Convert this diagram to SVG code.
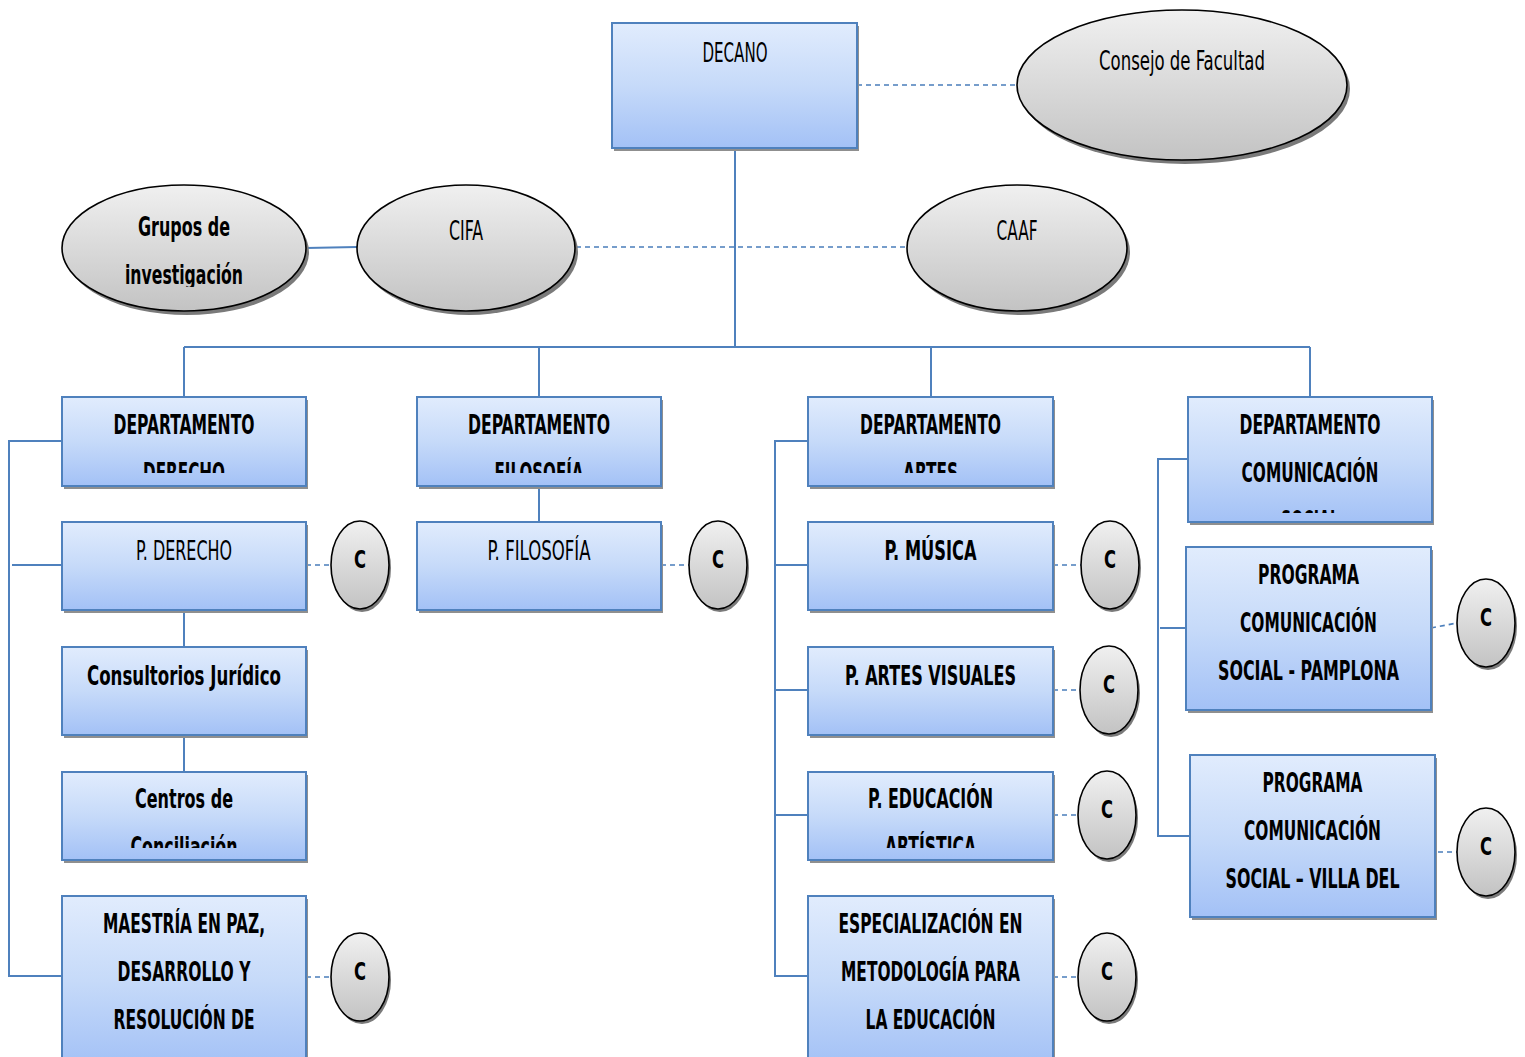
<svg xmlns="http://www.w3.org/2000/svg" width="1525" height="1057" viewBox="0 0 1525 1057">
<style>
.box{fill:url(#gb);stroke:#4f81bd;stroke-width:2}
.bsh{fill:#8f8f8f}
.ell{fill:url(#ge);stroke:#000;stroke-width:1.6}
.esh{fill:#7a7a7a}
.ln{fill:none;stroke:#4f81bd;stroke-width:2}
.dl{fill:none;stroke:#4a7ebb;stroke-width:1.6;stroke-dasharray:5 4}
text{font-family:"Liberation Sans Narrow","DejaVu Sans Condensed","Liberation Sans",Arial,sans-serif;font-stretch:condensed;font-size:26px;fill:#000;text-anchor:middle}
.b{font-weight:bold}
.r{font-weight:normal}
.c{font-weight:bold;font-size:25px}
</style>
<defs>
<linearGradient id="gb" x1="0" y1="0" x2="0" y2="1">
<stop offset="0" stop-color="#e1ecfd"/>
<stop offset="0.5" stop-color="#c6daf9"/>
<stop offset="1" stop-color="#a3c1f6"/>
</linearGradient>
<linearGradient id="ge" x1="0" y1="0" x2="0" y2="1">
<stop offset="0" stop-color="#f0f0f0"/>
<stop offset="1" stop-color="#c3c3c3"/>
</linearGradient>
<clipPath id="cDer"><rect x="62" y="397" width="244" height="76"/></clipPath>
<clipPath id="cFil"><rect x="417" y="397" width="244" height="76"/></clipPath>
<clipPath id="cArt"><rect x="808" y="397" width="245" height="76"/></clipPath>
<clipPath id="cCom"><rect x="1188" y="397" width="244" height="116"/></clipPath>
<clipPath id="cCen"><rect x="62" y="772" width="244" height="76"/></clipPath>
<clipPath id="cEdu"><rect x="808" y="772" width="245" height="76"/></clipPath>
<clipPath id="cGru"><rect x="62" y="185" width="244" height="102"/></clipPath>
</defs>
<rect width="1525" height="1057" fill="#fff"/>

<g id="connectors">
<path class="ln" d="M735 148V347M184 347H1310M184 347V397M539 347V397M931 347V397M1310 347V397"/>
<path class="ln" d="M306 248L357 247"/>
<path class="ln" d="M539 486V522M184 610V647M184 735V772"/>
<path class="ln" d="M64 441H9V976H62M12 565H62"/>
<path class="ln" d="M810 441H775V976H808M775 565H808M775 690H808M775 815H808"/>
<path class="ln" d="M1188 459H1158V836H1190M1160 628H1186"/>
<path class="dl" d="M857 85H1017M576 247H907"/>
<path class="dl" d="M306 565H331M661 565H689M1053 565H1081M1053 690H1080M1053 815H1078M1053 977H1078M306 977H331M1431 628L1457 623M1429 852H1457"/>
</g>

<g id="decano">
<rect class="bsh" x="614" y="26" width="245" height="125"/>
<rect class="box" x="612" y="23" width="245" height="125"/>
<text class="r" x="735" y="62" textLength="65" lengthAdjust="spacingAndGlyphs">DECANO</text>
</g>

<g id="consejo">
<ellipse class="esh" cx="1185" cy="89" rx="165" ry="75"/>
<ellipse class="ell" cx="1182" cy="85" rx="165" ry="75"/>
<text class="r" x="1182" y="70" textLength="166" lengthAdjust="spacingAndGlyphs">Consejo de Facultad</text>
</g>

<g id="grupos">
<ellipse class="esh" cx="187" cy="252" rx="122" ry="63"/>
<ellipse class="ell" cx="184" cy="248" rx="122" ry="63"/>
<text class="b" x="184" y="236" textLength="92" lengthAdjust="spacingAndGlyphs">Grupos de</text>
<text class="b" x="184" y="284" textLength="118" lengthAdjust="spacingAndGlyphs" clip-path="url(#cGru)">investigación</text>
</g>

<g id="cifa">
<ellipse class="esh" cx="469" cy="252" rx="109" ry="63"/>
<ellipse class="ell" cx="466" cy="248" rx="109" ry="63"/>
<text class="r" x="466" y="240" textLength="34" lengthAdjust="spacingAndGlyphs">CIFA</text>
</g>

<g id="caaf">
<ellipse class="esh" cx="1020" cy="252" rx="110" ry="63"/>
<ellipse class="ell" cx="1017" cy="248" rx="110" ry="63"/>
<text class="r" x="1017" y="240" textLength="41" lengthAdjust="spacingAndGlyphs">CAAF</text>
</g>

<g id="dep-derecho">
<rect class="bsh" x="64" y="400" width="244" height="89"/>
<rect class="box" x="62" y="397" width="244" height="89"/>
<text class="b" x="184" y="434" textLength="141" lengthAdjust="spacingAndGlyphs">DEPARTAMENTO</text>
<text class="b" x="184" y="482" textLength="82" lengthAdjust="spacingAndGlyphs" clip-path="url(#cDer)">DERECHO</text>
</g>

<g id="dep-filosofia">
<rect class="bsh" x="419" y="400" width="244" height="89"/>
<rect class="box" x="417" y="397" width="244" height="89"/>
<text class="b" x="539" y="434" textLength="142" lengthAdjust="spacingAndGlyphs">DEPARTAMENTO</text>
<text class="b" x="539" y="482" textLength="89" lengthAdjust="spacingAndGlyphs" clip-path="url(#cFil)">FILOSOFÍA</text>
</g>

<g id="dep-artes">
<rect class="bsh" x="810" y="400" width="245" height="89"/>
<rect class="box" x="808" y="397" width="245" height="89"/>
<text class="b" x="930.5" y="434" textLength="141" lengthAdjust="spacingAndGlyphs">DEPARTAMENTO</text>
<text class="b" x="930.5" y="482" textLength="55" lengthAdjust="spacingAndGlyphs" clip-path="url(#cArt)">ARTES</text>
</g>

<g id="dep-comunicacion">
<rect class="bsh" x="1190" y="400" width="244" height="125"/>
<rect class="box" x="1188" y="397" width="244" height="125"/>
<text class="b" x="1310" y="434" textLength="141" lengthAdjust="spacingAndGlyphs">DEPARTAMENTO</text>
<text class="b" x="1310" y="482" textLength="137" lengthAdjust="spacingAndGlyphs">COMUNICACIÓN</text>
<text class="b" x="1310" y="530" textLength="58" lengthAdjust="spacingAndGlyphs" clip-path="url(#cCom)">SOCIAL</text>
</g>

<g id="p-derecho">
<rect class="bsh" x="64" y="525" width="244" height="88"/>
<rect class="box" x="62" y="522" width="244" height="88"/>
<text class="r" x="184" y="560" textLength="96" lengthAdjust="spacingAndGlyphs">P. DERECHO</text>
</g>

<g id="p-filosofia">
<rect class="bsh" x="419" y="525" width="244" height="88"/>
<rect class="box" x="417" y="522" width="244" height="88"/>
<text class="r" x="539" y="560" textLength="103" lengthAdjust="spacingAndGlyphs">P. FILOSOFÍA</text>
</g>

<g id="p-musica">
<rect class="bsh" x="810" y="525" width="245" height="88"/>
<rect class="box" x="808" y="522" width="245" height="88"/>
<text class="b" x="930.5" y="560" textLength="92" lengthAdjust="spacingAndGlyphs">P. MÚSICA</text>
</g>

<g id="consultorios">
<rect class="bsh" x="64" y="650" width="244" height="88"/>
<rect class="box" x="62" y="647" width="244" height="88"/>
<text class="b" x="184" y="685" textLength="194" lengthAdjust="spacingAndGlyphs">Consultorios Jurídico</text>
</g>

<g id="centros">
<rect class="bsh" x="64" y="775" width="244" height="88"/>
<rect class="box" x="62" y="772" width="244" height="88"/>
<text class="b" x="184" y="808" textLength="98" lengthAdjust="spacingAndGlyphs">Centros de</text>
<text class="b" x="184" y="856" textLength="107" lengthAdjust="spacingAndGlyphs" clip-path="url(#cCen)">Conciliación</text>
</g>

<g id="maestria">
<rect class="bsh" x="64" y="899" width="244" height="170"/>
<rect class="box" x="62" y="896" width="244" height="170"/>
<text class="b" x="184" y="933" textLength="162" lengthAdjust="spacingAndGlyphs">MAESTRÍA EN PAZ,</text>
<text class="b" x="184" y="981" textLength="133" lengthAdjust="spacingAndGlyphs">DESARROLLO Y</text>
<text class="b" x="184" y="1029" textLength="141" lengthAdjust="spacingAndGlyphs">RESOLUCIÓN DE</text>
</g>

<g id="p-artes-visuales">
<rect class="bsh" x="810" y="650" width="245" height="88"/>
<rect class="box" x="808" y="647" width="245" height="88"/>
<text class="b" x="930.5" y="685" textLength="171" lengthAdjust="spacingAndGlyphs">P. ARTES VISUALES</text>
</g>

<g id="p-educacion">
<rect class="bsh" x="810" y="775" width="245" height="88"/>
<rect class="box" x="808" y="772" width="245" height="88"/>
<text class="b" x="930.5" y="808" textLength="125" lengthAdjust="spacingAndGlyphs">P. EDUCACIÓN</text>
<text class="b" x="930.5" y="856" textLength="91" lengthAdjust="spacingAndGlyphs" clip-path="url(#cEdu)">ARTÍSTICA</text>
</g>

<g id="especializacion">
<rect class="bsh" x="810" y="899" width="245" height="170"/>
<rect class="box" x="808" y="896" width="245" height="170"/>
<text class="b" x="930.5" y="933" textLength="184" lengthAdjust="spacingAndGlyphs">ESPECIALIZACIÓN EN</text>
<text class="b" x="930.5" y="981" textLength="179" lengthAdjust="spacingAndGlyphs">METODOLOGÍA PARA</text>
<text class="b" x="930.5" y="1029" textLength="130" lengthAdjust="spacingAndGlyphs">LA EDUCACIÓN</text>
</g>

<g id="p-com-pamplona">
<rect class="bsh" x="1188" y="550" width="245" height="163"/>
<rect class="box" x="1186" y="547" width="245" height="163"/>
<text class="b" x="1308.5" y="584" textLength="101" lengthAdjust="spacingAndGlyphs">PROGRAMA</text>
<text class="b" x="1308.5" y="632" textLength="137" lengthAdjust="spacingAndGlyphs">COMUNICACIÓN</text>
<text class="b" x="1308.5" y="680" textLength="181" lengthAdjust="spacingAndGlyphs">SOCIAL - PAMPLONA</text>
</g>

<g id="p-com-villa">
<rect class="bsh" x="1192" y="758" width="245" height="162"/>
<rect class="box" x="1190" y="755" width="245" height="162"/>
<text class="b" x="1312.5" y="792" textLength="100" lengthAdjust="spacingAndGlyphs">PROGRAMA</text>
<text class="b" x="1312.5" y="840" textLength="137" lengthAdjust="spacingAndGlyphs">COMUNICACIÓN</text>
<text class="b" x="1312.5" y="888" textLength="174" lengthAdjust="spacingAndGlyphs">SOCIAL – VILLA DEL</text>
</g>

<g id="c-derecho">
<ellipse class="esh" cx="362" cy="568" rx="29" ry="44"/>
<ellipse class="ell" cx="360" cy="565" rx="29" ry="44"/>
<text class="c" x="360" y="568" textLength="12" lengthAdjust="spacingAndGlyphs">C</text>
</g>
<g id="c-filosofia">
<ellipse class="esh" cx="720" cy="568" rx="29" ry="44"/>
<ellipse class="ell" cx="718" cy="565" rx="29" ry="44"/>
<text class="c" x="718" y="568" textLength="12" lengthAdjust="spacingAndGlyphs">C</text>
</g>
<g id="c-musica">
<ellipse class="esh" cx="1112" cy="568" rx="29" ry="44"/>
<ellipse class="ell" cx="1110" cy="565" rx="29" ry="44"/>
<text class="c" x="1110" y="568" textLength="12" lengthAdjust="spacingAndGlyphs">C</text>
</g>
<g id="c-artes-visuales">
<ellipse class="esh" cx="1111" cy="693" rx="29" ry="44"/>
<ellipse class="ell" cx="1109" cy="690" rx="29" ry="44"/>
<text class="c" x="1109" y="693" textLength="12" lengthAdjust="spacingAndGlyphs">C</text>
</g>
<g id="c-educacion">
<ellipse class="esh" cx="1109" cy="818" rx="29" ry="44"/>
<ellipse class="ell" cx="1107" cy="815" rx="29" ry="44"/>
<text class="c" x="1107" y="818" textLength="12" lengthAdjust="spacingAndGlyphs">C</text>
</g>
<g id="c-especializacion">
<ellipse class="esh" cx="1109" cy="980" rx="29" ry="44"/>
<ellipse class="ell" cx="1107" cy="977" rx="29" ry="44"/>
<text class="c" x="1107" y="980" textLength="12" lengthAdjust="spacingAndGlyphs">C</text>
</g>
<g id="c-maestria">
<ellipse class="esh" cx="362" cy="980" rx="29" ry="44"/>
<ellipse class="ell" cx="360" cy="977" rx="29" ry="44"/>
<text class="c" x="360" y="980" textLength="12" lengthAdjust="spacingAndGlyphs">C</text>
</g>
<g id="c-pamplona">
<ellipse class="esh" cx="1488" cy="626" rx="29" ry="44"/>
<ellipse class="ell" cx="1486" cy="623" rx="29" ry="44"/>
<text class="c" x="1486" y="626" textLength="12" lengthAdjust="spacingAndGlyphs">C</text>
</g>
<g id="c-villa">
<ellipse class="esh" cx="1488" cy="855" rx="29" ry="44"/>
<ellipse class="ell" cx="1486" cy="852" rx="29" ry="44"/>
<text class="c" x="1486" y="855" textLength="12" lengthAdjust="spacingAndGlyphs">C</text>
</g>
</svg>
